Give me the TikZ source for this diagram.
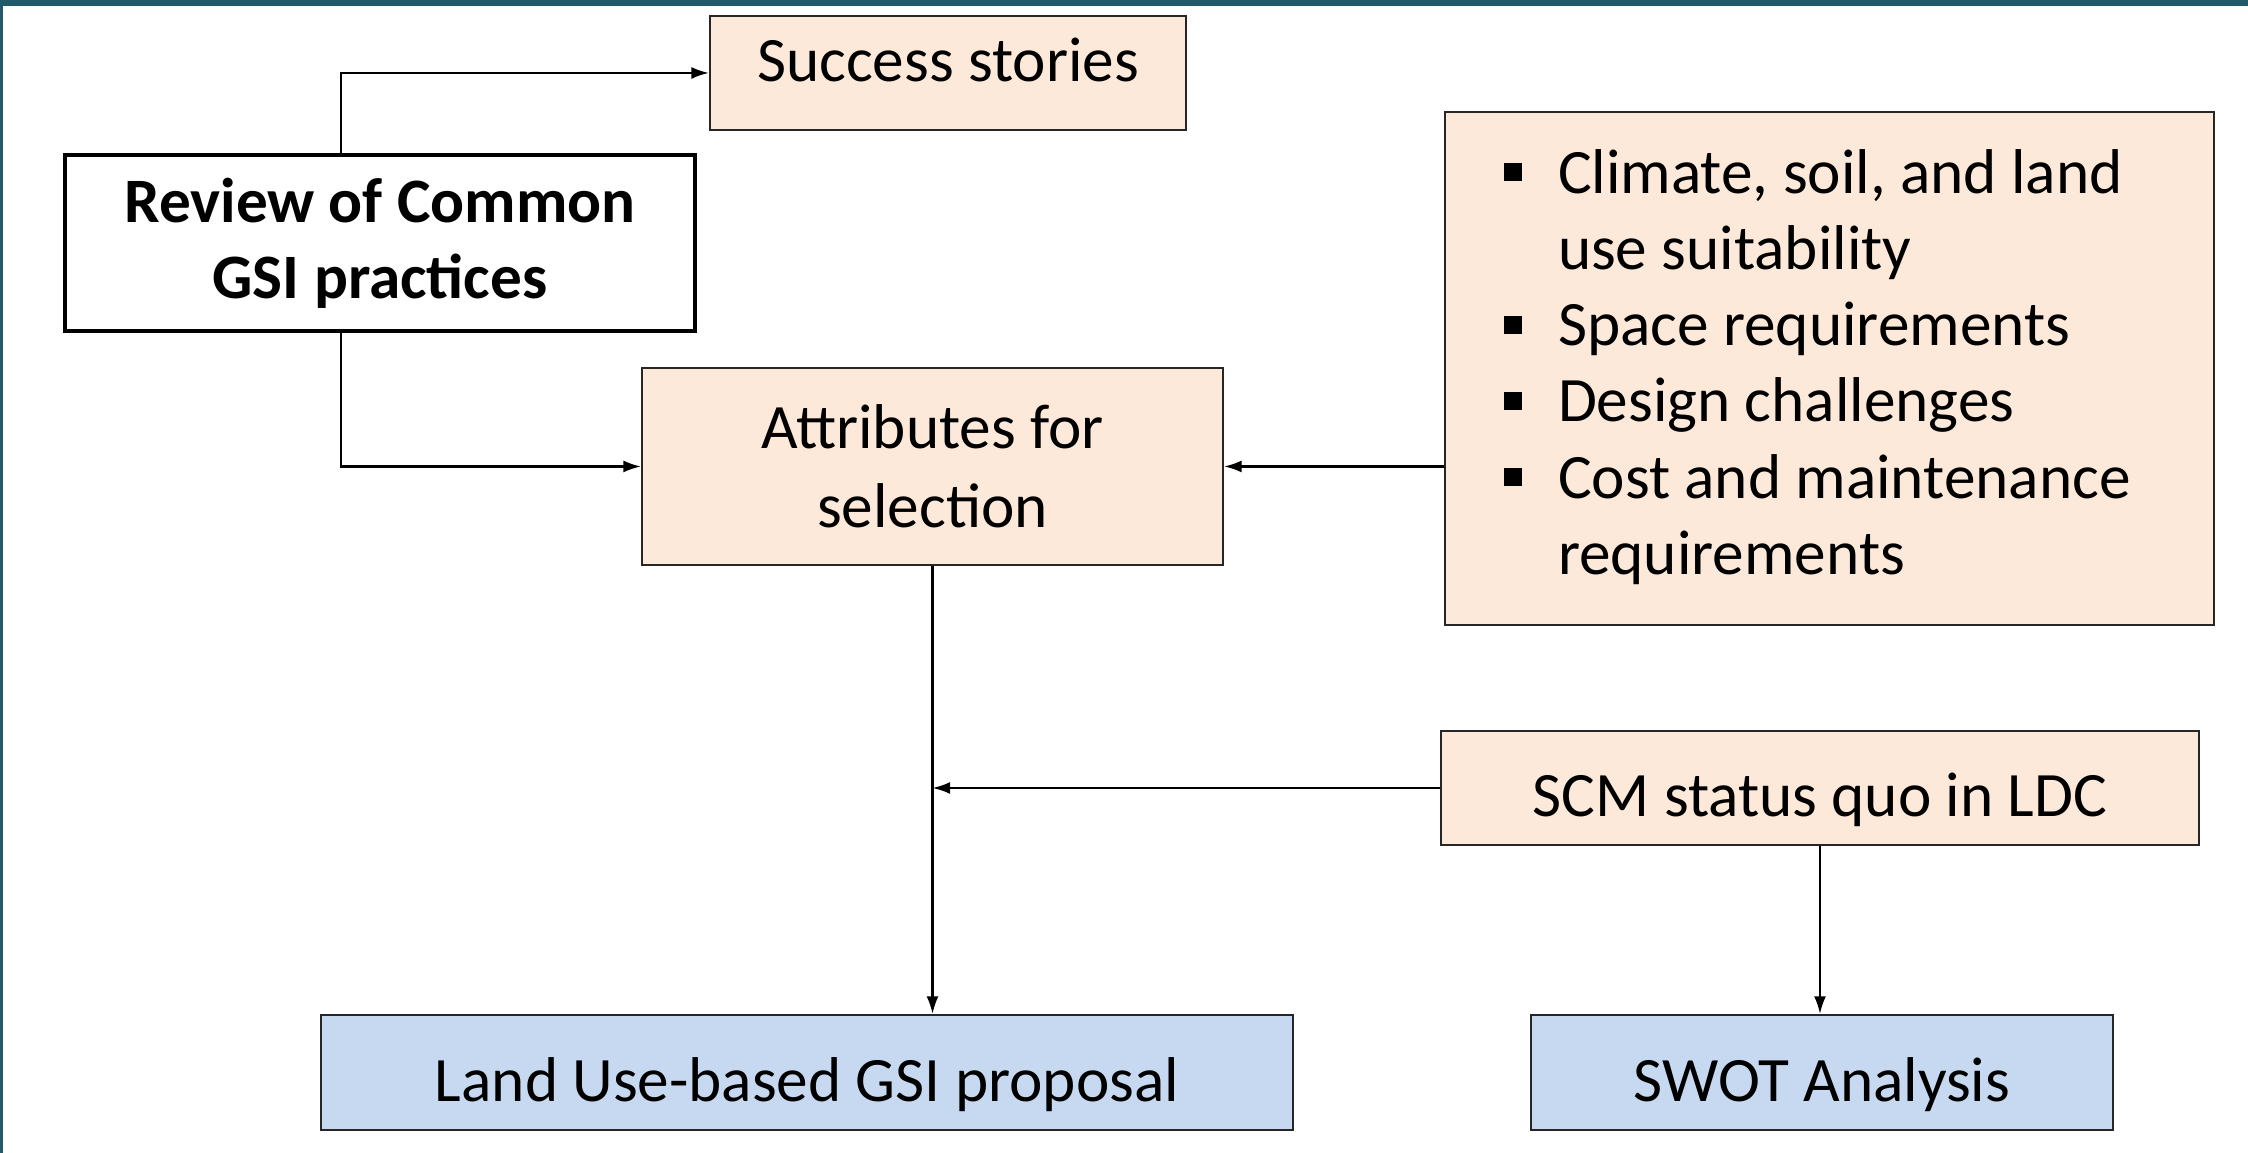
\documentclass[tikz,border=0pt]{standalone}
\usepackage{fontspec}
\setmainfont{Carlito}
\usetikzlibrary{arrows.meta,positioning,calc}
\definecolor{peach}{HTML}{FDE9D9}
\definecolor{paleblue}{HTML}{C6D9F0}
\definecolor{frameteal}{HTML}{235A69}
\newcommand{\critmark}{\rule[0.12cm]{0.18cm}{0.18cm}}
\tikzset{
box/.style = {draw=black!85, line width=0.6pt, rectangle, align=center, inner sep=0pt},
stage/.style = {box, fill=peach},
result/.style = {box, fill=paleblue},
review/.style = {draw, line width=1.4pt, rectangle, align=center, fill=white, inner sep=0pt, font=\fontsize{18}{21.7}\selectfont\bfseries},
lowtext/.style = {text height=16.4pt, text depth=0pt},
hightext/.style = {text height=9pt, text depth=4pt},
tap/.style = {coordinate}
}

\begin{document}
\begin{tikzpicture}[>={Latex[length=5pt,width=3.4pt]}, line width=0.6pt, font=\fontsize{18}{21.7}\selectfont]
    \useasboundingbox (0,0) rectangle (22.48,11.53);
    % frame
    \fill [frameteal] (0,11.47) rectangle (22.48,11.53);
    \fill [frameteal] (0,0) rectangle (0.03,11.53);
    % boxes
    \node [stage, hightext, minimum width=4.76cm, minimum height=1.14cm] (succ) at (9.48,10.80) {Success stories};
    \node [review, minimum width=6.30cm, minimum height=1.76cm] (review) at (3.80,9.10) {Review of Common\\GSI practices};
    \node [stage, minimum width=5.81cm, minimum height=1.97cm, font=\fontsize{18}{22.6}\selectfont] (attr) at (9.325,6.865) {Attributes for\\selection};
    \node [stage, align=flush left, text width=6.51cm, inner xsep=0.59cm, minimum height=5.13cm] (crit) at (18.295,7.845) {%
      \begin{tabular}{@{}p{0.54cm}@{}l@{}}
      \critmark & Climate, soil, and land\\
               & use suitability\\
      \critmark & Space requirements\\
      \critmark & Design challenges\\
      \critmark & Cost and maintenance\\
               & requirements
      \end{tabular}};
    \node [stage, lowtext, minimum width=7.58cm, minimum height=1.14cm] (scm) at (18.20,3.65) {SCM status quo in LDC};
    \node [result, lowtext, minimum width=9.72cm, minimum height=1.15cm] (landuse) at (8.07,0.805) {Land Use-based GSI proposal};
    \node [result, lowtext, minimum width=5.82cm, minimum height=1.15cm] (swot) at (18.22,0.805) {SWOT Analysis};
    \node [tap] (tap) at (3.41,9.10) {};
    % connectors
    \draw [->] (review.north -| tap) |- (succ.west);
    \draw [->] (review.south -| tap) |- (attr.west);
    \draw [->] (attr.east -| crit.west) -- (attr.east);
    \draw [->] (attr.south) -- (attr.south |- landuse.north);
    \draw [->] (scm.west) -- (attr.south |- scm.west);
    \draw [->] (scm.south) -- (scm.south |- swot.north);
\end{tikzpicture}
\end{document}
